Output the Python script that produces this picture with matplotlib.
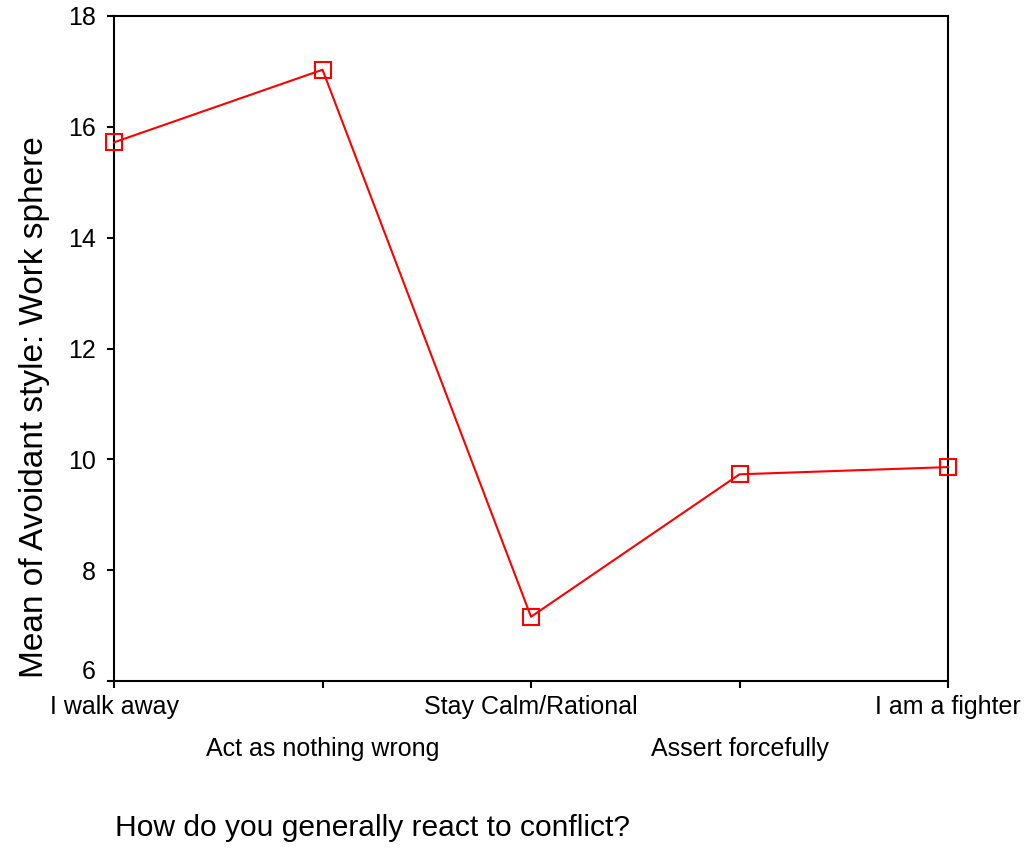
import matplotlib.pyplot as plt
from matplotlib.transforms import ScaledTranslation

plt.rcParams['font.family'] = ['Liberation Sans', 'DejaVu Sans']

# data
categories = ["I walk away", "Act as nothing wrong", "Stay Calm/Rational",
              "Assert forcefully", "I am a fighter"]
means = [15.72, 17.03, 7.16, 9.73, 9.86]
y_ticks = [6, 8, 10, 12, 14, 16, 18]

fig = plt.figure(figsize=(10.31, 8.5), dpi=100)
ax = fig.add_axes([0.1106, 0.1988, 0.8089, 0.7824])

x = list(range(len(categories)))
ax.plot(x, means, color='#ff0000', linewidth=1.5, marker='s', markersize=11,
        markerfacecolor='none', markeredgecolor='#ff0000', markeredgewidth=1.5,
        clip_on=False, zorder=3)

ax.set_xlim(0, len(categories) - 1)
ax.set_ylim(6, 18)
ax.set_yticks(y_ticks)
ax.set_xticks(x)
ax.set_xticklabels(categories)

for s in ax.spines.values():
    s.set_linewidth(1.5)
ax.tick_params(axis='both', direction='out', length=5, width=1.5,
               labelsize=18, top=False, right=False)
ax.tick_params(axis='y', pad=8)

# bottom "6" sits a little above its tick in the original
lab6 = ax.get_yticklabels()[0]
lab6.set_transform(lab6.get_transform() + ScaledTranslation(0, 0.12, fig.dpi_scale_trans))

# staggered category labels
for i, t in enumerate(ax.xaxis.get_major_ticks()):
    t.set_pad(5 if i % 2 == 0 else 35)

ax.set_ylabel("Mean of Avoidant style: Work sphere", fontsize=24)
ax.yaxis.set_label_coords(-0.077, 0.412)
fig.text(0.1115, 0.026, "How do you generally react to conflict?",
         fontsize=21.6, ha='left', va='center')

fig.savefig("out.png", dpi=100)
